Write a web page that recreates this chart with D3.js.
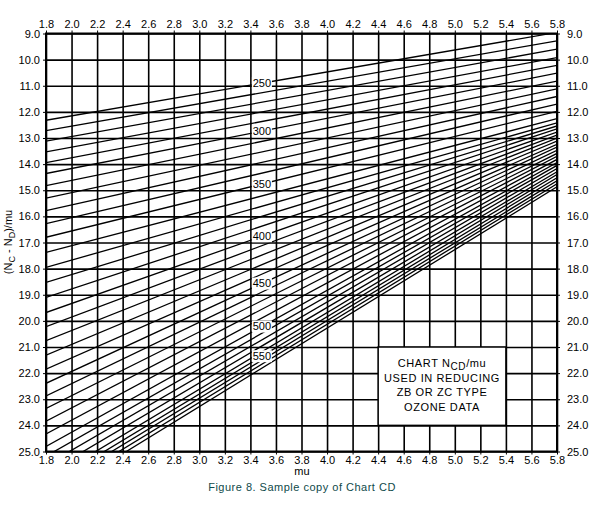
<!DOCTYPE html>
<html>
<head>
<meta charset="utf-8">
<script src="https://cdn.jsdelivr.net/npm/d3@7"></script>
<style>
  body { margin: 0; background: #fff; }
  text { font-family: "Liberation Sans", Arial, sans-serif; }
</style>
</head>
<body>
<svg id="chart"></svg>
<script>
const W = 599, H = 518;

// axis ticks
const muTicks = [1.8, 2.0, 2.2, 2.4, 2.6, 2.8, 3.0, 3.2, 3.4, 3.6, 3.8, 4.0, 4.2, 4.4, 4.6, 4.8, 5.0, 5.2, 5.4, 5.6, 5.8];
const nTicks = [9, 10, 11, 12, 13, 14, 15, 16, 17, 18, 19, 20, 21, 22, 23, 24, 25];

// ozone lines (every 10 units), value of (Nc-Nd)/mu at mu = 1.8 and mu = 5.8
const ozone = [250, 260, 270, 280, 290, 300, 310, 320, 330, 340, 350, 360, 370, 380, 390, 400,
  410, 420, 430, 440, 450, 460, 470, 480, 490, 500, 510, 520, 530, 540, 550, 560, 570, 580];
const atLeft = [12.32, 12.72, 13.12, 13.53, 13.94, 14.36, 14.82, 15.30, 15.78, 16.28, 16.80,
  17.38, 17.95, 18.53, 19.10, 19.68, 20.22, 20.76, 21.31, 21.85, 22.39, 22.87, 23.35, 23.84,
  24.33, 24.81, 25.18, 25.52, 25.84, 26.14, 26.35, 26.53, 26.71, 26.89];
const atRight = [8.96, 9.28, 9.60, 9.92, 10.22, 10.52, 10.82, 11.12, 11.41, 11.70, 11.98,
  12.26, 12.42, 12.54, 12.65, 12.77, 12.89, 13.00, 13.12, 13.24, 13.35, 13.47, 13.59, 13.70,
  13.82, 13.94, 14.05, 14.17, 14.29, 14.40, 14.52, 14.64, 14.75, 14.87];
const labelled = [250, 300, 350, 400, 450, 500, 550];

const boxLines = ["CHART N|CD|/mu", "USED IN REDUCING", "ZB OR ZC TYPE", "OZONE DATA"];

const x = d3.scaleLinear().domain([1.8, 5.8]).range([46, 557]);
const y = d3.scaleLinear().domain([9, 25]).range([33.5, 451.5]);

const svg = d3.select("#chart").attr("width", W).attr("height", H);

// grid
svg.append("g")
  .attr("transform", "translate(0," + y(25) + ")")
  .call(d3.axisBottom(x).tickValues(muTicks).tickSize(-(y(25) - y(9))).tickFormat(""))
  .call(g => g.select(".domain").remove())
  .call(g => g.selectAll("line").attr("stroke", "#000").attr("stroke-width", 1.6));

svg.append("g")
  .attr("transform", "translate(" + x(1.8) + ",0)")
  .call(d3.axisLeft(y).tickValues(nTicks).tickSize(-(x(5.8) - x(1.8))).tickFormat(""))
  .call(g => g.select(".domain").remove())
  .call(g => g.selectAll("line").attr("stroke", "#000").attr("stroke-width", 1.6));

// ozone lines, clipped to the plot
svg.append("clipPath").attr("id", "plot")
  .append("rect")
  .attr("x", x(1.8)).attr("y", y(9))
  .attr("width", x(5.8) - x(1.8)).attr("height", y(25) - y(9));

const line = d3.line().x(d => x(d[0])).y(d => y(d[1]));
svg.append("g").attr("clip-path", "url(#plot)")
  .selectAll("path")
  .data(ozone.map((v, i) => [[1.8, atLeft[i]], [5.8, atRight[i]]]))
  .join("path")
  .attr("d", line)
  .attr("fill", "none")
  .attr("stroke", "#000")
  .attr("stroke-width", 1.3);

// line labels
const labMu = 3.49;
const lab = svg.append("g");
labelled.forEach(v => {
  const i = ozone.indexOf(v);
  const val = atLeft[i] + (atRight[i] - atLeft[i]) * (labMu - 1.8) / 4;
  const cx = x(labMu), cy = y(val);
  lab.append("rect")
    .attr("x", cx - 10).attr("y", cy - 6)
    .attr("width", 20).attr("height", 12)
    .attr("fill", "#fff");
  lab.append("text")
    .attr("x", cx).attr("y", cy)
    .attr("dy", "0.35em")
    .attr("text-anchor", "middle")
    .attr("font-size", 11)
    .text(v);
});

// note box
const box = svg.append("g");
box.append("rect")
  .attr("x", x(4.4)).attr("y", y(21))
  .attr("width", x(5.4) - x(4.4)).attr("height", y(24) - y(21))
  .attr("fill", "#fff").attr("stroke", "#000").attr("stroke-width", 1.5);
boxLines.forEach((s, k) => {
  const t = box.append("text")
    .attr("x", (x(4.4) + x(5.4)) / 2)
    .attr("y", y(21) + 20 + k * 14.7)
    .attr("text-anchor", "middle")
    .attr("font-size", 11)
    .attr("letter-spacing", "0.6px");
  const parts = s.split("|");
  t.append("tspan").text(parts[0]);
  if (parts.length > 1) {
    t.append("tspan").attr("dy", 3).attr("font-size", 10).text(parts[1]);
    t.append("tspan").attr("dy", -3).text(parts[2]);
  }
});

// frame
svg.append("rect")
  .attr("x", x(1.8)).attr("y", y(9))
  .attr("width", x(5.8) - x(1.8)).attr("height", y(25) - y(9))
  .attr("fill", "none").attr("stroke", "#000").attr("stroke-width", 2);

// axes
const fmt = d3.format(".1f");
function styleAxis(g) {
  g.select(".domain").remove();
  g.selectAll("line").attr("stroke", "#000");
  g.selectAll("text").attr("font-size", 11).attr("fill", "#000")
    .attr("font-family", "'Liberation Sans', Arial, sans-serif");
}
svg.append("g").attr("transform", "translate(0," + y(9) + ")")
  .call(d3.axisTop(x).tickValues(muTicks).tickFormat(fmt).tickSize(3).tickPadding(3))
  .call(styleAxis);
svg.append("g").attr("transform", "translate(0," + y(25) + ")")
  .call(d3.axisBottom(x).tickValues(muTicks).tickFormat(fmt).tickSize(3).tickPadding(2))
  .call(styleAxis);
svg.append("g").attr("transform", "translate(" + x(1.8) + ",0)")
  .call(d3.axisLeft(y).tickValues(nTicks).tickFormat(fmt).tickSize(3).tickPadding(3))
  .call(styleAxis);
svg.append("g").attr("transform", "translate(" + x(5.8) + ",0)")
  .call(d3.axisRight(y).tickValues(nTicks).tickFormat(fmt).tickSize(3).tickPadding(7))
  .call(styleAxis);

// titles
svg.append("text")
  .attr("x", 302).attr("y", 475)
  .attr("text-anchor", "middle").attr("font-size", 11)
  .text("mu");

const yt = svg.append("text")
  .attr("transform", "translate(12,242) rotate(-90)")
  .attr("text-anchor", "middle").attr("font-size", 11);
yt.append("tspan").text("(N");
yt.append("tspan").attr("dy", 3).attr("font-size", 9).text("C");
yt.append("tspan").attr("dy", -3).text(" - N");
yt.append("tspan").attr("dy", 3).attr("font-size", 9).text("D");
yt.append("tspan").attr("dy", -3).text(")/mu");

svg.append("text")
  .attr("x", 302).attr("y", 491)
  .attr("text-anchor", "middle").attr("font-size", 11)
  .attr("fill", "#0f4a4a")
  .attr("letter-spacing", "0.5px")
  .text("Figure 8. Sample copy of Chart CD");
</script>
</body>
</html>
